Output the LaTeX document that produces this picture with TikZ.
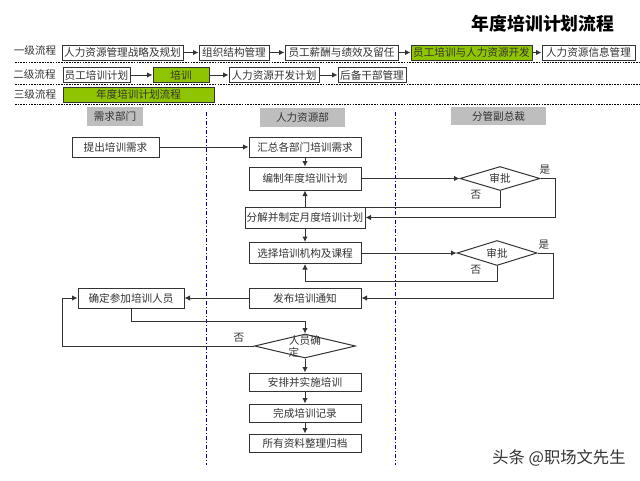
\documentclass[tikz,border=0pt]{standalone}
\usepackage{fontspec}
\setmainfont{Noto Sans CJK SC}
\usetikzlibrary{arrows.meta,shapes.geometric}
\definecolor{ln}{HTML}{333333}
\definecolor{grn}{HTML}{8FC400}
\definecolor{hdr}{HTML}{BEBEBE}
\definecolor{txt}{HTML}{333333}
\tikzset{
  box/.style={draw=ln,line width=1pt,inner sep=0pt,text=txt,font=\fontsize{10.6}{11}\selectfont,fill=white},
  gbox/.style={box,fill=grn},
  hbox/.style={inner sep=0pt,fill=hdr,text=txt,font=\fontsize{10.6}{11}\selectfont},
  dia/.style={diamond,aspect=3.3,draw=ln,line width=1pt,inner sep=0pt,fill=white,text=txt,font=\fontsize{10.6}{11}\selectfont},
  lab/.style={text=txt,inner sep=0pt,font=\fontsize{10.6}{11}\selectfont},
  arr/.style={draw=ln,line width=1pt,-{Latex[length=5.5pt,width=5.5pt]}},
  dotl/.style={line width=1.9pt,dash pattern=on 1.6pt off 1.1pt,black},
  vl/.style={line width=1pt,color=blue!60!black,dash pattern=on 4pt off 2pt on 1pt off 2pt}
}
\begin{document}
\begin{tikzpicture}[x=1pt,y=-1pt]
\useasboundingbox (0,0) rectangle (640,480);
\node[font=\fontsize{17.8}{19}\bfseries\selectfont,inner sep=0pt] (title) at (543,23.5) {年度培训计划流程};
% level labels
\node[lab] (l1) at (35,50) {一级流程};
\node[lab] (l2) at (34.5,74.5) {二级流程};
\node[lab] (l3) at (35,94.5) {三级流程};
% separators
\draw[dotl] (15,62.5) -- (640,62.5);
\draw[dotl] (15,84.5) -- (640,84.5);
\draw[dotl] (15,104.5) -- (640,104.5);
\draw[vl] (206.5,112) -- (206.5,465);
\draw[vl] (395,112) -- (395,465);
% row 1
\node[box,minimum width=121pt,minimum height=15pt] (a1) at (122.5,52.5) {人力资源管理战略及规划};
\node[box,minimum width=70pt,minimum height=15pt] (a2) at (234,52.5) {组织结构管理};
\node[box,minimum width=113pt,minimum height=15pt] (a3) at (341.5,52.5) {员工薪酬与绩效及留任};
\node[gbox,minimum width=121pt,minimum height=15pt] (a4) at (471.5,52.5) {员工培训与人力资源开发};
\node[box,minimum width=93pt,minimum height=15pt] (a5) at (588.5,52.5) {人力资源信息管理};
\draw[arr] (a1) -- (a2);
\draw[arr] (a2) -- (a3);
\draw[arr] (a3) -- (a4);
\draw[arr] (a4) -- (a5);
% row 2
\node[box,minimum width=67pt,minimum height=15pt] (b1) at (96.5,75) {员工培训计划};
\node[gbox,minimum width=56pt,minimum height=15pt] (b2) at (181,75) {培训};
\node[box,minimum width=90pt,minimum height=15pt] (b3) at (274,75) {人力资源开发计划};
\node[box,minimum width=68pt,minimum height=15pt] (b4) at (372,75) {后备干部管理};
\draw[arr] (b1) -- (b2);
\draw[arr] (b2) -- (b3);
\draw[arr] (b3) -- (b4);
% row 3
\node[gbox,minimum width=151pt,minimum height=15pt] (c1) at (138.5,94.5) {年度培训计划流程};
% headers
\node[hbox,minimum width=56pt,minimum height=19pt] (h1) at (115,116.5) {需求部门};
\node[hbox,minimum width=85pt,minimum height=19pt] (h2) at (302.5,117.5) {人力资源部};
\node[hbox,minimum width=95pt,minimum height=18pt] (h3) at (498.5,116) {分管副总裁};
% process
\node[box,minimum width=87pt,minimum height=20pt] (n0) at (115.5,147) {提出培训需求};
\node[box,minimum width=112pt,minimum height=20pt] (n1) at (305,147) {汇总各部门培训需求};
\node[box,minimum width=112pt,minimum height=23pt] (n2) at (305,178.5) {编制年度培训计划};
\node[box,minimum width=120pt,minimum height=21pt] (n3) at (305,217.5) {分解并制定月度培训计划};
\node[box,minimum width=112pt,minimum height=21pt] (n4) at (305,253) {选择培训机构及课程};
\node[box,minimum width=112pt,minimum height=20pt] (n5) at (305,298) {发布培训通知};
\node[box,minimum width=106pt,minimum height=20pt] (n6) at (131,298) {确定参加培训人员};
\node[box,minimum width=112pt,minimum height=18pt] (n7) at (305,382) {安排并实施培训};
\node[box,minimum width=112pt,minimum height=18pt] (n8) at (305,413) {完成培训记录};
\node[box,minimum width=112pt,minimum height=18pt] (n9) at (305,443) {所有资料整理归档};
% decisions
\node[dia,minimum width=80pt,minimum height=24pt] (d1) at (500,178.5) {审批};
\node[dia,minimum width=80pt,minimum height=25pt] (d2) at (497,253) {审批};
\node[dia,minimum width=101pt,minimum height=24pt] (d3) at (305,346) {};
\node[lab] (d3a) at (305,340) {人员确};
\node[lab] (d3b) at (294,352) {定};
% labels
\node[lab] (y1) at (545,170) {是};
\node[lab] (f1) at (476,195) {否};
\node[lab] (y2) at (544,245) {是};
\node[lab] (f2) at (476,270) {否};
\node[lab] (f3) at (239,338) {否};
% connectors
\coordinate (p1) at (555,178.5);
\coordinate (p2) at (555,217.5);
\coordinate (p3) at (500,207);
\coordinate (p4) at (305,207);
\coordinate (p5) at (553,253);
\coordinate (p6) at (553,298);
\coordinate (p7) at (497,281);
\coordinate (p8) at (305,281);
\coordinate (p9) at (131,321);
\coordinate (p10) at (305,321);
\coordinate (p11) at (62,346);
\coordinate (p12) at (62,298);
\draw[arr] (n0) -- (n1);
\draw[arr] (n1) -- (n2);
\draw[arr] (n2) -- (d1);
\draw[arr] (d1.east) -- (p1) -- (p2) -- (n3.east);
\draw[arr] (d1.south) -- (p3) -- (p4) -- (n2.south);
\draw[arr] (n3) -- (n4);
\draw[arr] (n4) -- (d2);
\draw[arr] (d2.east) -- (p5) -- (p6) -- (n5.east);
\draw[arr] (d2.south) -- (p7) -- (p8) -- (n4.south);
\draw[arr] (n5) -- (n6);
\draw[arr] (n6.south) -- (p9) -- (p10) -- (d3.north);
\draw[arr] (d3.west) -- (p11) -- (p12) -- (n6.west);
\draw[arr] (d3) -- (n7);
\draw[arr] (n7) -- (n8);
\draw[arr] (n8) -- (n9);
% watermark
\node[inner sep=0pt,text=black!80,font=\fontsize{16.3}{18}\selectfont] (wm) at (559,458) {头条 @职场文先生};
\end{tikzpicture}
\end{document}
